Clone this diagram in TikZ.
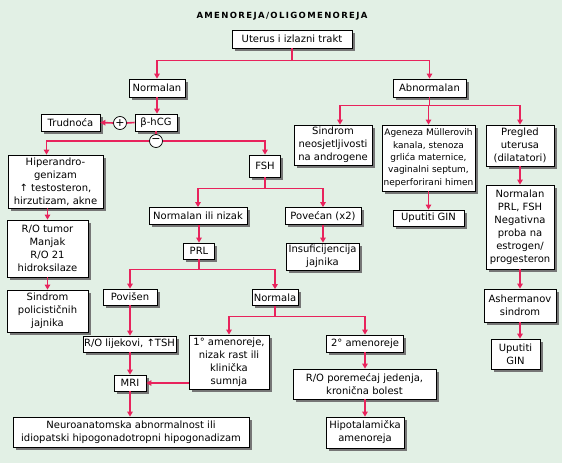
\documentclass[tikz,border=0pt]{standalone}
\usepackage{fontspec}
\setmainfont{DejaVu Sans}
\newfontfamily\titlefont[LetterSpace=16]{DejaVu Sans}
\usetikzlibrary{arrows.meta,shadows}
\definecolor{bg}{HTML}{E2F0E5}
\definecolor{ln}{HTML}{E8235C}
\definecolor{shd}{HTML}{767676}
\begin{document}
\begin{tikzpicture}[x=1pt,y=-1pt,
 box/.style={draw=black, line width=0.8pt, fill=white, inner sep=0pt, align=center,
   font=\fontsize{10}{13}\selectfont,
   drop shadow={shadow xshift=2.5pt, shadow yshift=-2.5pt, fill=shd, opacity=1}},
 wh/.style 2 args={minimum width=#1pt, minimum height=#2pt},
 conn/.style={draw=ln, line width=1.6pt},
 arr/.style={conn, -{Triangle[length=5pt,width=5.5pt]}},
 sgn/.style={circle, draw=black, fill=white, line width=0.7pt, minimum size=13pt, inner sep=0pt, font=\fontsize{11}{11}\selectfont}]
\fill[bg] (0,0) rectangle (562,463);
\useasboundingbox (0,0) rectangle (562,463);

\node[font={\titlefont\fontsize{8.5}{10}\selectfont\bfseries}] (title) at (282,16) {AMENOREJA/OLIGOMENOREJA};

\node[box,wh={120}{18}] (ut) at (292,39) {Uterus i izlazni trakt};
\node[box,wh={56}{18}] (nl) at (157,88) {Normalan};
\node[box,wh={73}{18}] (ab) at (429.5,88) {Abnormalan};
\node[box,wh={42}{17}] (hcg) at (156,122.5) {β-hCG};
\node[box,wh={59}{17}] (tr) at (70.5,122.5) {Trudnoća};
\node[sgn] (pl) at (120,123) {+};
\node[sgn] (mi) at (156,141) {−};
\node[box,wh={95}{53}] (hip) at (55.5,181.5) {Hiperandro-\\genizam\\↑ testosteron,\\hirzutizam, akne};
\node[box,wh={81}{57}] (rot) at (47.5,248.5) {R/O tumor\\Manjak\\R/O 21\\hidroksilaze};
\node[box,wh={81}{42}] (pco) at (47.5,311) {Sindrom\\policističnih\\jajnika};
\node[box,wh={31}{22}] (fsh) at (265,166) {FSH};
\node[box,wh={98}{17}] (nn) at (198,216) {Normalan ili nizak};
\node[box,wh={76}{17}] (pov) at (323,216) {Povećan (x2)};
\node[box,wh={31}{16}] (prl) at (199,251) {PRL};
\node[box,wh={73}{27}] (ins) at (322.5,256.5) {Insuficijencija\\jajnika};
\node[box,wh={54}{16}] (psn) at (130,297) {Povišen};
\node[box,wh={46}{16}] (nrm) at (275,297.5) {Normala};
\node[box,wh={93}{16}] (rol) at (129.5,344) {R/O lijekovi, ↑TSH};
\node[box,wh={32}{16}] (mri) at (130,383) {MRI};
\node[box,wh={80}{54}] (a1) at (229,362) {1° amenoreje,\\nizak rast ili\\klinička\\sumnja};
\node[box,wh={236}{30}] (neu) at (131,432) {Neuroanatomska abnormalnost ili\\idiopatski hipogonadotropni hipogonadizam};
\node[box,wh={77}{17}] (a2) at (365,343.5) {2° amenoreje};
\node[box,wh={143}{30}] (rop) at (364.5,384) {R/O poremećaj jedenja,\\kronična bolest};
\node[box,wh={78}{31}] (hyp) at (365,432.5) {Hipotalamička\\amenoreja};
\node[box,wh={78}{40}] (sin) at (333,145) {Sindrom\\neosjetljivosti\\na androgene};
\node[box,wh={93}{66},font=\fontsize{9}{12.3}\selectfont] (age) at (428.5,158) {Ageneza Müllerovih\\kanala, stenoza\\grlića maternice,\\vaginalni septum,\\neperforirani himen};
\node[box,wh={71}{16}] (up1) at (428.5,218) {Uputiti GIN};
\node[box,wh={68}{41}] (pre) at (520,145.5) {Pregled\\uterusa\\(dilatatori)};
\node[box,wh={68}{84}] (npr) at (520,227) {Normalan\\PRL, FSH\\Negativna\\proba na\\estrogen/\\progesteron};
\node[box,wh={72}{33}] (ash) at (520,305.5) {Ashermanov\\sindrom};
\node[box,wh={49}{30}] (up2) at (515.5,354) {Uputiti\\GIN};

% connectors
\draw[conn] (ut.south) -- ++(0,12) coordinate (b1);
\draw[arr] (b1) -| (nl.north);
\draw[arr] (b1) -| (ab.north);
\draw[arr] (nl.south) -- (nl.south |- hcg.north);
\draw[conn] (hcg.west) -- (pl.east);
\draw[arr] (pl.west) -- (tr.east);
\draw[conn] (hcg.south) -- (mi.north);
\draw[arr] (mi.west) -| ([xshift=-9pt]hip.north);
\draw[arr] (mi.east) -| (fsh.north);
\draw[arr] (hip.south -| rot.north) -- (rot.north);
\draw[arr] (rot.south) -- (pco.north);
\draw[conn] (fsh.south) -- ++(0,11) coordinate (b3);
\draw[arr] (b3) -| (nn.north);
\draw[arr] (b3) -| (pov.north);
\draw[arr] (nn.south -| prl.north) -- (prl.north);
\draw[arr] (pov.south) -- (pov.south |- ins.north);
\draw[conn] (prl.south) -- ++(0,10) coordinate (b4);
\draw[arr] (b4) -| (psn.north);
\draw[arr] (b4) -| (nrm.north);
\draw[arr] (psn.south) -- (psn.south |- rol.north);
\draw[arr] (rol.south -| mri.north) -- (mri.north);
\draw[arr] (mri.south) -- (mri.south |- neu.north);
\draw[arr] (a1.west |- mri.east) -- (mri.east);
\draw[conn] (nrm.south) -- ++(0,10.5) coordinate (b5);
\draw[arr] (b5) -| (a1.north);
\draw[arr] (b5) -| (a2.north);
\draw[arr] (a2.south) -- (a2.south |- rop.north);
\draw[arr] (rop.south -| hyp.north) -- (hyp.north);
\draw[conn] (ab.south) -- ++(0,8) coordinate (b2);
\draw[arr] (b2) -| ([xshift=7pt]sin.north);
\draw[arr] (b2) -| (age.north);
\draw[arr] (b2) -| (pre.north);
\draw[arr] (age.south) -- (age.south |- up1.north);
\draw[arr] (pre.south) -- (npr.north);
\draw[arr] (npr.south) -- (ash.north);
\draw[arr] (ash.south) -- (ash.south |- up2.north);
\end{tikzpicture}
\end{document}
